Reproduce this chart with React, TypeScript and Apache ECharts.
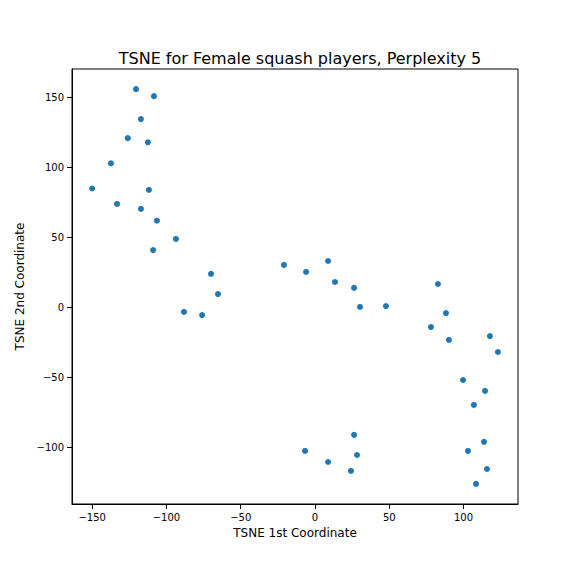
import React, { useEffect, useRef } from "react";
import * as echarts from "echarts";

const xs = [-120.5,-108.4,-117.2,-126,-112.5,-137.4,-150,-111.8,-133.3,-117.2,-106.4,-93.6,-109,-70,-65.3,-88.2,-76,-20.9,-6,8.8,13.5,26.3,30.3,47.8,82.8,88.2,78.1,90.2,117.8,123.2,99.7,114.5,107,113.8,103,115.8,108.4,-6.7,8.8,26.3,28.3,24.2];
const ys = [156,151,134.6,121,118,103,85,84,74,70.4,62,49,41,24,9.6,-3.2,-5.4,30.4,25.4,33.2,18.2,14,0.4,1,16.8,-4,-14,-23.2,-20.4,-31.8,-51.8,-59.6,-69.6,-96,-102.5,-115.4,-126,-102.5,-110.4,-91,-105.4,-116.8];
const xTicks = [-150, -100, -50, 0, 50, 100];
const yTicks = [-100, -50, 0, 50, 100, 150];

export default function App() {
  const ref = useRef<HTMLDivElement>(null);
  useEffect(() => {
    document.body.style.margin = "0";
    const chart = echarts.init(ref.current!, null, { renderer: "svg" });
    const lbl = { color: "#000", fontFamily: "DejaVu Sans", fontSize: 10 };
    const fmt = (v: number) => String(v).replace("-", "−");
    chart.setOption({
      animation: false,
      title: { text: "TSNE for Female squash players, Perplexity 5", left: 295, top: 45, textAlign: "center",
        textStyle: { fontFamily: "DejaVu Sans", fontSize: 16, fontWeight: "normal", color: "#000" } },
      grid: { left: 72, top: 69, width: 446, height: 435 },
      xAxis: { type: "value", min: -163.6, max: 136.7, name: "TSNE 1st Coordinate", nameLocation: "middle", nameGap: 22,
        nameTextStyle: { fontFamily: "DejaVu Sans", fontSize: 12, color: "#000" },
        axisLine: { onZero: false, lineStyle: { color: "#000" } },
        splitLine: { show: false },
        axisLabel: { ...lbl, customValues: xTicks, formatter: fmt },
        axisTick: { show: true, customValues: xTicks, lineStyle: { color: "#000" } } },
      yAxis: { type: "value", min: -140.4, max: 170.4, name: "TSNE 2nd Coordinate", nameLocation: "middle", nameGap: 44,
        nameTextStyle: { fontFamily: "DejaVu Sans", fontSize: 12, color: "#000" },
        axisLine: { show: true, onZero: false, lineStyle: { color: "#000" } },
        splitLine: { show: false },
        axisLabel: { ...lbl, customValues: yTicks, formatter: fmt },
        axisTick: { show: true, customValues: yTicks, lineStyle: { color: "#000" } } },
      graphic: [{ type: "rect", shape: { x: 72, y: 69, width: 446, height: 435 }, style: { fill: "none", stroke: "#000", lineWidth: 1 }, silent: true }],
      series: [{ type: "scatter", symbolSize: 6, itemStyle: { color: "#1f77b4", opacity: 1 },
        data: xs.map((x, i) => [x, ys[i]]) }],
    });
    return () => chart.dispose();
  }, []);
  return <div ref={ref} style={{ width: 576, height: 576 }} />;
}
